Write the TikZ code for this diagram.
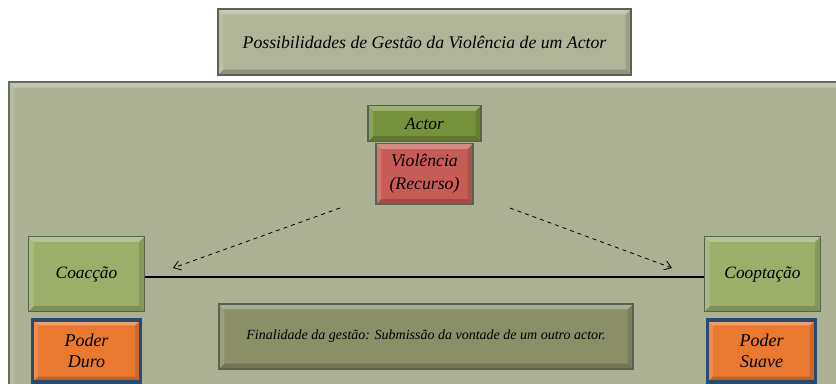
\documentclass[tikz,border=0pt]{standalone}
\usepackage{fontspec}
\setmainfont{Liberation Serif}
\usetikzlibrary{arrows.meta}
\definecolor{panelF}{RGB}{172,176,149}
\definecolor{panelD}{RGB}{95,112,92}
\definecolor{titleF}{RGB}{176,180,152}
\definecolor{actorF}{RGB}{119,146,60}
\definecolor{violF}{RGB}{199,92,86}
\definecolor{lightG}{RGB}{155,174,106}
\definecolor{orangeF}{RGB}{233,120,48}
\definecolor{blueD}{RGB}{42,74,112}
\definecolor{finF}{RGB}{138,143,102}
\definecolor{boxD}{RGB}{84,100,80}
\tikzset{
  bevel/.style={path picture={
     \fill[white, opacity=0.28] (path picture bounding box.north west) -- (path picture bounding box.north east)
        -- ([xshift=-4pt,yshift=-4pt]path picture bounding box.north east) -- ([xshift=4pt,yshift=-4pt]path picture bounding box.north west) -- cycle;
     \fill[white, opacity=0.15] (path picture bounding box.north west) -- (path picture bounding box.south west)
        -- ([xshift=4pt,yshift=4pt]path picture bounding box.south west) -- ([xshift=4pt,yshift=-4pt]path picture bounding box.north west) -- cycle;
     \fill[black, opacity=0.18] (path picture bounding box.south west) -- (path picture bounding box.south east)
        -- ([xshift=-4pt,yshift=4pt]path picture bounding box.south east) -- ([xshift=4pt,yshift=4pt]path picture bounding box.south west) -- cycle;
     \fill[black, opacity=0.12] (path picture bounding box.north east) -- (path picture bounding box.south east)
        -- ([xshift=-4pt,yshift=4pt]path picture bounding box.south east) -- ([xshift=-4pt,yshift=-4pt]path picture bounding box.north east) -- cycle;
  }},
  bx/.style={draw=boxD, line width=1.4pt, inner sep=0pt, font=\itshape, align=center, bevel},
  pw/.style={bx, fill=orangeF, draw=blueD, line width=2.6pt, minimum width={108*0.75pt}, minimum height={62*0.75pt}, font=\itshape\fontsize{13.5}{16}\selectfont},
  side/.style={bx, fill=lightG, minimum width={116*0.75pt}, minimum height={75*0.75pt}, font=\itshape\fontsize{13}{15}\selectfont},
  dasharrow/.style={dashed, line width=0.6pt, -{Straight Barb[length=5pt,width=7pt]}},
}
\begin{document}
\begin{tikzpicture}[x=0.75pt,y=-0.75pt]
\useasboundingbox (0,0) rectangle (836,383);
\fill[white] (0,0) rectangle (836,383);
% panel
\node[draw=panelD, fill=panelF, line width=1.8pt, minimum width={900*0.75pt}, minimum height={340*0.75pt}, inner sep=0pt, anchor=north west, bevel] (panel) at (8,81) {};
% title
\node[bx, fill=titleF, minimum width={413*0.75pt}, minimum height={66*0.75pt}, font=\itshape\fontsize{13.3}{16}\selectfont] (title) at (424.5,42) {Possibilidades de Gestão da Violência de um Actor};
% actor
\node[bx, fill=actorF, minimum width={113*0.75pt}, minimum height={36*0.75pt}, font=\itshape\fontsize{13}{15}\selectfont] (actor) at (424.5,123.5) {Actor};
\node[bx, fill=violF, minimum width={97*0.75pt}, minimum height={61*0.75pt}, font=\itshape\fontsize{13.3}{17}\selectfont] (viol) at (424.5,174) {Violência\\(Recurso)};
% sides
\node[side] (coac) at (86.5,274) {Coacção};
\node[side] (coop) at (762.5,274) {Cooptação};
\node[pw] (duro) at (86.5,351) {Poder\\Duro};
\node[pw] (suave) at (761.5,351) {Poder\\Suave};
% finalidade
\node[bx, fill=finF, minimum width={414*0.75pt}, minimum height={65*0.75pt}, font=\itshape\fontsize{10.5}{12}\selectfont] (fin) at (426,336.5) {Finalidade da gestão: Submissão da vontade de um outro actor.};
% connectors
\draw[line width=2.1pt] (coac.east |- 0,277) -- (coop.west |- 0,277);
\coordinate (s1) at (340,208);
\coordinate (e1) at (173,268);
\coordinate (s2) at (510,208);
\coordinate (e2) at (672,268);
\draw[dasharrow] (s1) -- (e1);
\draw[dasharrow] (s2) -- (e2);
\end{tikzpicture}
\end{document}
